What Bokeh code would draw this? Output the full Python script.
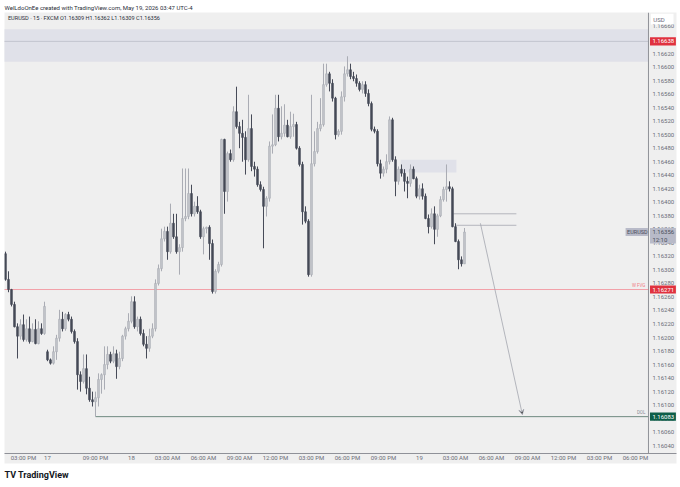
from bokeh.plotting import figure
from bokeh.models import (Range1d, FixedTicker, Arrow, VeeHead, ColumnDataSource, Span, Title)
from bokeh.core.properties import value
from bokeh.embed import file_html
from bokeh.resources import INLINE

# ---------------- data (EURUSD 15m, FXCM) ----------------
opens = [1.16324,1.16286,1.16271,1.16249,1.16216,1.16202,1.16219,1.16197,1.16213,1.16194,
         1.16212,1.16191,1.16213,1.16206,1.16179,1.16167,1.16162,1.16179,1.16199,1.16227,
         1.16213,1.16234,1.16227,1.16209,1.16194,1.16145,1.16135,1.16154,1.16125,1.16108,
         1.16105,1.16111,1.16138,1.16145,1.16160,1.16175,1.16165,1.16176,1.16157,1.16169,
         1.16202,1.16213,1.16224,1.16253,1.16216,1.16227,1.16206,1.16190,1.16184,1.16202,
         1.16213,1.16280,1.16302,1.16346,1.16357,1.16327,1.16369,1.16349,1.16327,1.16333,
         1.16376,1.16379,1.16413,1.16383,1.16394,1.16386,1.16349,1.16361,1.16363,1.16339,
         1.16268,1.16298,1.16308,1.16493,1.16416,1.16472,1.16463,1.16534,1.16512,1.16502,
         1.16496,1.16463,1.16509,1.16453,1.16449,1.16426,1.16419,1.16394,1.16406,1.16483,
         1.16485,1.16539,1.16497,1.16502,1.16514,1.16497,1.16512,1.16515,1.16480,1.16456,
         1.16386,1.16372,1.16293,1.16457,1.16475,1.16509,1.16515,1.16574,1.16590,1.16576,
         1.16554,1.16500,1.16505,1.16556,1.16590,1.16596,1.16586,1.16583,1.16576,1.16567,
         1.16574,1.16561,1.16546,1.16508,1.16505,1.16457,1.16443,1.16449,1.16460,1.16522,
         1.16463,1.16431,1.16449,1.16443,1.16431,1.16428,1.16449,1.16435,1.16409,1.16420,
         1.16409,1.16376,1.16364,1.16383,1.16360,1.16380,1.16404,1.16419,1.16423,1.16420,
         1.16364,1.16342,1.16315,1.16309]
highs = [1.16327,1.16298,1.16272,1.16253,1.16221,1.16227,1.16234,1.16227,1.16231,1.16221,
         1.16227,1.16224,1.16221,1.16253,1.16182,1.16169,1.16187,1.16204,1.16241,1.16238,
         1.16236,1.16238,1.16231,1.16212,1.16199,1.16150,1.16175,1.16175,1.16142,1.16120,
         1.16120,1.16147,1.16147,1.16187,1.16187,1.16179,1.16187,1.16182,1.16179,1.16204,
         1.16216,1.16236,1.16261,1.16261,1.16231,1.16231,1.16212,1.16202,1.16213,1.16221,
         1.16286,1.16308,1.16361,1.16364,1.16364,1.16398,1.16383,1.16383,1.16338,1.16450,
         1.16450,1.16450,1.16426,1.16401,1.16409,1.16389,1.16364,1.16364,1.16366,1.16345,
         1.16301,1.16312,1.16494,1.16494,1.16475,1.16478,1.16542,1.16571,1.16519,1.16522,
         1.16505,1.16559,1.16530,1.16460,1.16453,1.16431,1.16423,1.16409,1.16490,1.16530,
         1.16559,1.16559,1.16542,1.16545,1.16522,1.16534,1.16531,1.16519,1.16483,1.16460,
         1.16394,1.16375,1.16559,1.16505,1.16519,1.16554,1.16605,1.16605,1.16593,1.16582,
         1.16556,1.16508,1.16564,1.16601,1.16616,1.16605,1.16593,1.16589,1.16579,1.16579,
         1.16579,1.16567,1.16549,1.16512,1.16508,1.16463,1.16453,1.16471,1.16527,1.16525,
         1.16468,1.16453,1.16456,1.16449,1.16438,1.16456,1.16453,1.16438,1.16426,1.16428,
         1.16413,1.16382,1.16391,1.16394,1.16383,1.16409,1.16423,1.16456,1.16431,1.16423,
         1.16369,1.16345,1.16320,1.16362]
lows = [1.16284,1.16267,1.16246,1.16215,1.16169,1.16197,1.16194,1.16194,1.16191,1.16193,
        1.16190,1.16190,1.16204,1.16204,1.16165,1.16160,1.16160,1.16167,1.16194,1.16209,
        1.16210,1.16224,1.16206,1.16191,1.16123,1.16120,1.16132,1.16116,1.16105,1.16098,
        1.16083,1.16098,1.16117,1.16123,1.16153,1.16162,1.16162,1.16139,1.16153,1.16165,
        1.16197,1.16209,1.16221,1.16213,1.16209,1.16203,1.16187,1.16169,1.16179,1.16199,
        1.16209,1.16277,1.16298,1.16342,1.16315,1.16324,1.16346,1.16324,1.16293,1.16327,
        1.16372,1.16375,1.16379,1.16379,1.16383,1.16346,1.16323,1.16354,1.16315,1.16265,
        1.16265,1.16295,1.16305,1.16383,1.16401,1.16460,1.16460,1.16509,1.16480,1.16460,
        1.16441,1.16460,1.16446,1.16438,1.16423,1.16416,1.16332,1.16379,1.16401,1.16472,
        1.16483,1.16490,1.16493,1.16497,1.16496,1.16494,1.16497,1.16478,1.16453,1.16367,
        1.16369,1.16290,1.16290,1.16453,1.16472,1.16505,1.16512,1.16571,1.16564,1.16549,
        1.16493,1.16497,1.16500,1.16549,1.16586,1.16582,1.16579,1.16571,1.16564,1.16561,
        1.16556,1.16542,1.16505,1.16502,1.16453,1.16435,1.16438,1.16443,1.16456,1.16460,
        1.16409,1.16426,1.16438,1.16416,1.16406,1.16423,1.16434,1.16406,1.16404,1.16404,
        1.16375,1.16354,1.16361,1.16338,1.16349,1.16378,1.16401,1.16401,1.16416,1.16363,
        1.16341,1.16301,1.16305,1.16309]
closes = [1.16286,1.16271,1.16249,1.16216,1.16202,1.16219,1.16197,1.16213,1.16194,1.16212,
          1.16191,1.16213,1.16206,1.16246,1.16167,1.16162,1.16179,1.16199,1.16227,1.16213,
          1.16234,1.16227,1.16209,1.16194,1.16145,1.16135,1.16154,1.16125,1.16108,1.16105,
          1.16111,1.16138,1.16145,1.16160,1.16175,1.16165,1.16176,1.16157,1.16169,1.16202,
          1.16213,1.16224,1.16253,1.16216,1.16227,1.16206,1.16190,1.16184,1.16202,1.16213,
          1.16280,1.16302,1.16346,1.16357,1.16327,1.16369,1.16349,1.16327,1.16333,1.16376,
          1.16379,1.16413,1.16383,1.16394,1.16386,1.16349,1.16361,1.16363,1.16339,1.16268,
          1.16298,1.16308,1.16493,1.16416,1.16472,1.16463,1.16534,1.16512,1.16502,1.16496,
          1.16463,1.16509,1.16453,1.16449,1.16426,1.16419,1.16394,1.16406,1.16483,1.16485,
          1.16539,1.16497,1.16502,1.16514,1.16497,1.16512,1.16515,1.16480,1.16456,1.16386,
          1.16372,1.16293,1.16457,1.16475,1.16509,1.16515,1.16574,1.16590,1.16576,1.16554,
          1.16500,1.16505,1.16556,1.16590,1.16596,1.16586,1.16583,1.16576,1.16567,1.16574,
          1.16561,1.16546,1.16508,1.16505,1.16457,1.16443,1.16449,1.16460,1.16522,1.16463,
          1.16431,1.16449,1.16443,1.16431,1.16428,1.16449,1.16435,1.16409,1.16420,1.16409,
          1.16376,1.16364,1.16383,1.16360,1.16380,1.16404,1.16419,1.16423,1.16420,1.16364,
          1.16342,1.16315,1.16309,1.16356]

tick_positions = [6, 14, 30, 42, 54, 66, 78, 90, 102, 114, 126, 138, 150, 162, 174, 186, 198, 210]
tick_labels = ["03:00 PM", "17", "09:00 PM", "18", "03:00 AM", "06:00 AM", "09:00 AM", "12:00 PM",
               "03:00 PM", "06:00 PM", "09:00 PM", "19", "03:00 AM", "06:00 AM", "09:00 AM",
               "12:00 PM", "03:00 PM", "06:00 PM"]
price_ticks = [1.16040, 1.16060, 1.16080, 1.16100, 1.16120, 1.16140, 1.16160, 1.16180,
               1.16200, 1.16220, 1.16240, 1.16260, 1.16280, 1.16300, 1.16320, 1.16340,
               1.16360, 1.16380, 1.16400, 1.16420, 1.16440, 1.16460, 1.16480, 1.16500,
               1.16520, 1.16540, 1.16560, 1.16580, 1.16600, 1.16620, 1.16640, 1.16660]
price_labels = ["%.5f" % v for v in price_ticks]

supply_zone = (1.16608, 1.16656)
supply_line = 1.16638
fvg_box = (131.7, 150.3, 1.16444, 1.16463)
level_lines = [(149.3, 170.3, 1.16383), (150.0, 170.3, 1.16366)]
arrow_from = (158.3, 1.16369)
arrow_to = (172.3, 1.16086)
w_fvg = 1.16271
dol = 1.16083
dol_start = 30
last_price = 1.16356
header = "WelLdoOnEe created with TradingView.com, May 19, 2026 03:47 UTC-4"
legend = "EURUSD \u00b7 15 \u00b7 FXCM   O1.16309  H1.16362  L1.16309  C1.16356"

FONT = "Roboto"
BG = "#efefef"
UP = "#c3c5cb"
DOWN = "#454957"
SEP = 214.33        # right edge of the candle pane (price-scale column starts here)
XMAX = 223.67

p = figure(frame_width=672, frame_height=441, output_backend="svg", toolbar_location=None,
           x_range=Range1d(-0.33, XMAX), y_range=Range1d(1.160285, 1.166807),
           min_border_left=4, min_border_right=4, min_border_top=0, min_border_bottom=0,
           background_fill_color=BG, border_fill_color="white")
p.grid.visible = False
p.outline_line_color = None
p.yaxis.visible = False

# header / footer
p.title.text = header
p.title.text_font = FONT
p.title.text_font_size = "6px"
p.title.text_font_style = "normal"
p.title.text_color = "#2a2e39"
p.title.standoff = 3
p.add_layout(Title(text="TV  TradingView", text_font=FONT, text_font_size="9px",
                   text_font_style="bold", text_color="#131722", standoff=9), "below")

xs = list(range(len(opens)))
col = [UP if c >= o else DOWN for o, c in zip(opens, closes)]
edge = ["#a9acb4" if c >= o else DOWN for o, c in zip(opens, closes)]
top = [max(o, c) for o, c in zip(opens, closes)]
bot = [min(o, c) for o, c in zip(opens, closes)]
src = ColumnDataSource(dict(x=xs, top=top, bot=bot, hi=highs, lo=lows, col=col, edge=edge))

# zones
p.quad(left=-1, right=SEP, bottom=supply_zone[0], top=supply_zone[1],
       fill_color="#e0e1e9", line_color=None)
p.segment(x0=-1, x1=SEP, y0=supply_line, y1=supply_line, line_color="#c2c4cf", line_width=1)
p.quad(left=fvg_box[0], right=fvg_box[1], bottom=fvg_box[2], top=fvg_box[3],
       fill_color="#e0e1e9", line_color=None)

# key levels
p.segment(x0=-1, x1=SEP, y0=w_fvg, y1=w_fvg, line_color="#f2a0a8", line_width=1)
p.segment(x0=dol_start, x1=SEP, y0=dol, y1=dol, line_color="#6f8a80", line_width=1)
for x0, x1, y in level_lines:
    p.segment(x0=x0, x1=x1, y0=y, y1=y, line_color="#b4b6bd", line_width=1)

# candles
p.segment(x0="x", x1="x", y0="lo", y1="hi", line_color="edge", line_width=1, source=src)
p.vbar(x="x", width=0.62, top="top", bottom="bot", fill_color="col", line_color="edge",
       line_width=0.6, source=src)

# arrow
p.add_layout(Arrow(x_start=arrow_from[0], y_start=arrow_from[1], x_end=arrow_to[0], y_end=arrow_to[1],
                   line_color="#a3a6ae", line_width=0.8,
                   end=VeeHead(size=5, line_color="#a3a6ae", line_width=0.8)))

# level texts
p.text(x=[213.3], y=[w_fvg], text=["W FVG"], text_font=value(FONT), text_font_size="4.5px",
       text_color="#ef7b85", text_align="right", text_baseline="bottom", y_offset=-2)
p.text(x=[213.3], y=[dol], text=["DOL"], text_font=value(FONT), text_font_size="4.5px",
       text_color="#8a8d94", text_align="right", text_baseline="bottom", y_offset=-2)

# legend line
p.text(x=[0.8], y=[1.16672], text=[legend], text_font=value(FONT), text_font_size="5.6px",
       text_color="#2a2e39", text_baseline="middle")

# price scale column
p.add_layout(Span(location=SEP, dimension="height", line_color="#8f9198", line_width=1))
p.text(x=[SEP + 1.3] * len(price_ticks), y=price_ticks, text=price_labels,
       text_font=value(FONT), text_font_size="6px", text_color="#6a6d78", text_baseline="middle")

def tag(y, h, text, bg, fg, x0=SEP + 0.5, x1=XMAX - 0.2):
    p.quad(left=x0, right=x1, bottom=y - h, top=y + h, fill_color=bg, line_color=None)
    p.text(x=[x0 + 0.8], y=[y], text=[text], text_font=value(FONT), text_font_size="6px",
           text_color=fg, text_baseline="middle")

tag(1.16671, 0.00008, "USD", "white", "#6a6d78", x0=SEP + 0.8, x1=XMAX - 1.0)
tag(supply_line, 0.00006, "1.16638", "#e0323f", "white")
tag(w_fvg, 0.00006, "1.16271", "#e0323f", "white")
tag(dol, 0.00006, "1.16083", "#0d5e48", "white")
# current price + countdown
p.quad(left=SEP + 0.5, right=XMAX - 0.2, bottom=last_price - 0.00017, top=last_price + 0.00006,
       fill_color="#b8bac8", line_color=None)
p.text(x=[SEP + 1.3, SEP + 1.3], y=[last_price, last_price - 0.00011], text=["1.16356", "12:10"],
       text_font=value(FONT), text_font_size="6px", text_color="#4a4e5a", text_baseline="middle")
p.quad(left=206.7, right=SEP - 0.2, bottom=last_price - 0.00006, top=last_price + 0.00006,
       fill_color="#b8bac8", line_color=None)
p.text(x=[207.2], y=[last_price], text=["EURUSD"], text_font=value(FONT), text_font_size="5.5px",
       text_color="#4a4e5a", text_baseline="middle")

# time axis
xa = p.xaxis[0]
xa.ticker = FixedTicker(ticks=tick_positions)
xa.major_label_overrides = {t: l for t, l in zip(tick_positions, tick_labels)}
xa.major_label_text_font = FONT
xa.major_label_text_font_size = "6px"
xa.major_label_text_color = "#6a6d78"
xa.major_tick_line_color = None
xa.minor_tick_line_color = None
xa.major_tick_out = 0
xa.major_tick_in = 0
xa.minor_tick_out = 0
xa.minor_tick_in = 0
xa.major_label_standoff = 0
xa.axis_line_color = "#8f9198"
xa.background_fill_color = BG

open("out.html", "w").write(file_html(p, INLINE))
